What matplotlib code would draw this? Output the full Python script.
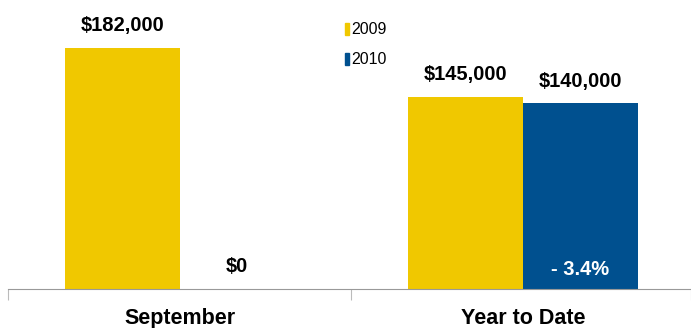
import matplotlib.pyplot as plt
from matplotlib.patches import Patch

plt.rcParams["font.family"] = ["Liberation Sans", "DejaVu Sans"]

categories = ["September", "Year to Date"]
values_2009 = [182000, 145000]
values_2010 = [0, 140000]
labels_2009 = ["$182,000", "$145,000"]
labels_2010 = ["$0", "$140,000"]
change_label = "- 3.4%"

c2009 = "#F0C800"
c2010 = "#00508F"

fig = plt.figure(figsize=(6.91, 3.28), dpi=100)
ax = fig.add_axes([8 / 691, 39 / 328, 1 - 8 / 691, 289 / 328])

x = range(len(categories))
w = 0.335
b1 = ax.bar([i - w / 2 for i in x], values_2009, w, color=c2009, label="2009")
b2 = ax.bar([i + w / 2 for i in x], values_2010, w, color=c2010, label="2010")

ax.set_xlim(-0.5, 1.49)
ax.set_ylim(0, 218000)

fs = 14.5
for rect, lab in zip(b1, labels_2009):
    ax.annotate(lab, (rect.get_x() + rect.get_width() / 2, rect.get_height()),
                xytext=(0, 9), textcoords="offset points", ha="center",
                va="bottom", fontsize=fs, fontweight="bold")
for rect, lab in zip(b2, labels_2010):
    if rect.get_height() == 0:
        ax.text(rect.get_x() + rect.get_width() / 2, 17000, lab, ha="center",
                va="center", fontsize=fs, fontweight="bold")
    else:
        ax.annotate(lab, (rect.get_x() + rect.get_width() / 2, rect.get_height()),
                    xytext=(0, 9), textcoords="offset points", ha="center",
                    va="bottom", fontsize=fs, fontweight="bold")
ax.text(b2[1].get_x() + b2[1].get_width() / 2, 14500, change_label, ha="center",
        va="center", fontsize=fs, fontweight="bold", color="white")

for s in ["top", "right", "left"]:
    ax.spines[s].set_visible(False)
ax.spines["bottom"].set_color("#999999")
ax.set_yticks([])
ax.set_xticks([-0.5, 0.5, 1.49])
ax.set_xticklabels([])
ax.tick_params(axis="x", length=8, color="#bbbbbb", direction="out")
for i, c in enumerate(categories):
    ax.text(i, -0.065, c, transform=ax.get_xaxis_transform(), ha="center",
            va="top", fontsize=15.5, fontweight="bold")

handles = [Patch(color=c2009, label="2009"), Patch(color=c2010, label="2010")]
ax.legend(handles=handles, loc="upper left", bbox_to_anchor=(0.484, 0.945),
          frameon=False, fontsize=11.5, handlelength=0.25, handleheight=0.8,
          handletextpad=0.15, labelspacing=0.95, borderaxespad=0)

fig.savefig("out.png", dpi=100)
